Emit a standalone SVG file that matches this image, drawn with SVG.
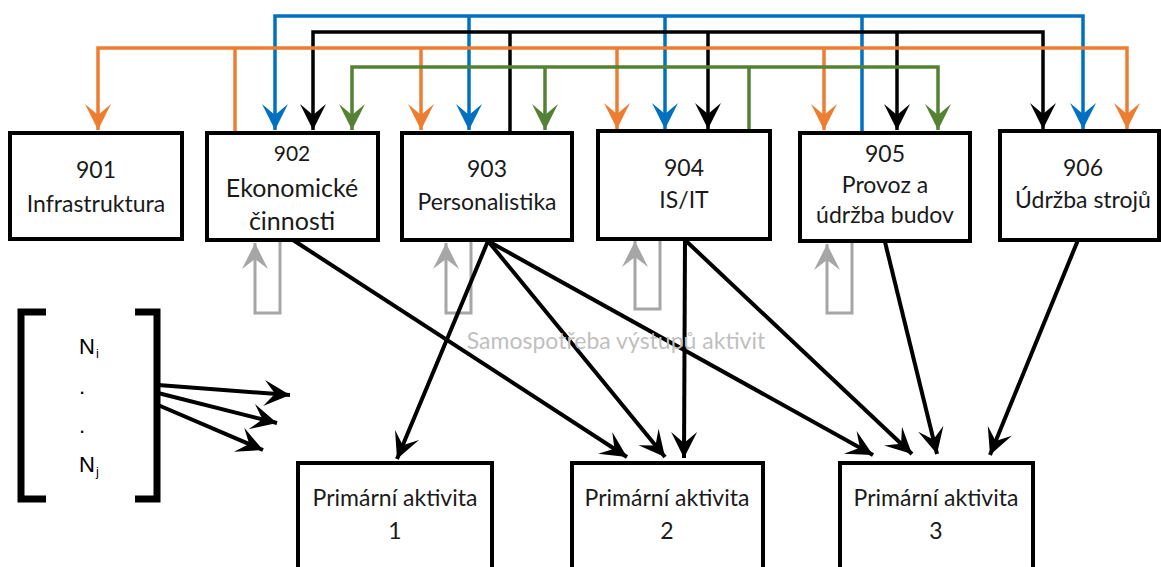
<svg xmlns="http://www.w3.org/2000/svg" width="1161" height="567" viewBox="0 0 1161 567">
  <style>
    .box { fill: #fff; stroke: #000; stroke-width: 4; }
    .lbl { font-family: Lato, "Open Sans", sans-serif; font-size: 23px; text-anchor: middle; fill: #1a1a1a; }
    .big { font-size: 25px; }
    .num { font-size: 21px; }
    .note { font-family: Lato, "Open Sans", sans-serif; font-size: 23px; text-anchor: middle; fill: #BFBFBF; }
    .math { font-family: "Liberation Sans", Arial, sans-serif; font-size: 22px; fill: #000; }
    .sub { font-size: 13px; }
    .bus { fill: none; stroke-width: 3.5; stroke-linejoin: miter; }
    .blue { stroke: #0070C0; }
    .orange { stroke: #ED7D31; }
    .black { stroke: #000; }
    .green { stroke: #548235; }
    .flow { fill: none; stroke: #000; stroke-width: 4; }
    .self { fill: none; stroke: #A6A6A6; stroke-width: 3; }
    .bracket { fill: none; stroke: #000; stroke-width: 7; stroke-linejoin: miter; }
  </style>
  <defs>
    <marker id="ah-blue" markerUnits="userSpaceOnUse" orient="auto-start-reverse" overflow="visible" markerWidth="1" markerHeight="1">
      <path d="M0,0 L-26,-13 L-15,0 L-26,13 Z" fill="#0070C0"/>
    </marker>
    <marker id="ah-orange" markerUnits="userSpaceOnUse" orient="auto-start-reverse" overflow="visible" markerWidth="1" markerHeight="1">
      <path d="M0,0 L-26,-13 L-15,0 L-26,13 Z" fill="#ED7D31"/>
    </marker>
    <marker id="ah-black" markerUnits="userSpaceOnUse" orient="auto-start-reverse" overflow="visible" markerWidth="1" markerHeight="1">
      <path d="M0,0 L-26,-13 L-15,0 L-26,13 Z" fill="#000"/>
    </marker>
    <marker id="ah-green" markerUnits="userSpaceOnUse" orient="auto-start-reverse" overflow="visible" markerWidth="1" markerHeight="1">
      <path d="M0,0 L-26,-13 L-15,0 L-26,13 Z" fill="#548235"/>
    </marker>
    <marker id="ah-gray" markerUnits="userSpaceOnUse" orient="auto" overflow="visible" markerWidth="1" markerHeight="1">
      <path d="M0,0 L-26,-13 L-16,0 L-26,13 Z" fill="#A6A6A6"/>
    </marker>
  </defs>

  <!-- support activity boxes -->
  <g id="n901">
    <rect class="box" x="10" y="133" width="172" height="106"/>
    <text class="lbl" x="96" y="178">901</text>
    <text class="lbl" x="96" y="212">Infrastruktura</text>
  </g>
  <g id="n902">
    <rect class="box" x="207" y="133" width="171" height="107"/>
    <text class="lbl num" x="292" y="161">902</text>
    <text class="lbl big" x="292" y="197">Ekonomické</text>
    <text class="lbl big" x="292" y="230">činnosti</text>
  </g>
  <g id="n903">
    <rect class="box" x="402" y="133" width="170" height="107"/>
    <text class="lbl" x="487" y="177">903</text>
    <text class="lbl" x="487" y="210">Personalistika</text>
  </g>
  <g id="n904">
    <rect class="box" x="598" y="131" width="172" height="108"/>
    <text class="lbl" x="684" y="176">904</text>
    <text class="lbl" x="684" y="208">IS/IT</text>
  </g>
  <g id="n905">
    <rect class="box" x="800" y="133" width="170" height="108"/>
    <text class="lbl" x="885" y="162">905</text>
    <text class="lbl" x="885" y="193">Provoz a</text>
    <text class="lbl" x="885" y="223">údržba budov</text>
  </g>
  <g id="n906">
    <rect class="box" x="1000" y="131" width="159" height="109"/>
    <text class="lbl" x="1083" y="176">906</text>
    <text class="lbl" x="1083" y="208">Údržba strojů</text>
  </g>

  <!-- primary activity boxes -->
  <g id="pa1">
    <rect class="box" x="298" y="463" width="194" height="130"/>
    <text class="lbl" x="395" y="506">Primární aktivita</text>
    <text class="lbl" x="395" y="539">1</text>
  </g>
  <g id="pa2">
    <rect class="box" x="572" y="463" width="191" height="130"/>
    <text class="lbl" x="667" y="506">Primární aktivita</text>
    <text class="lbl" x="667" y="539">2</text>
  </g>
  <g id="pa3">
    <rect class="box" x="840" y="463" width="193" height="130"/>
    <text class="lbl" x="936" y="506">Primární aktivita</text>
    <text class="lbl" x="936" y="539">3</text>
  </g>

  <g id="connectors">
    <!-- blue bus: 905 supplies 902, 903, 904, 906 -->
    <path class="bus blue" d="M275,130 V16 H1083 V129" marker-start="url(#ah-blue)" marker-end="url(#ah-blue)"/>
    <path class="bus blue" d="M469,16 V130" marker-end="url(#ah-blue)"/>
    <path class="bus blue" d="M665,16 V129" marker-end="url(#ah-blue)"/>
    <path class="bus blue" d="M862,131 V16"/>

    <!-- black bus: 903 supplies 902, 904, 905, 906 -->
    <path class="bus black" d="M313,130 V32 H1043 V129" marker-start="url(#ah-black)" marker-end="url(#ah-black)"/>
    <path class="bus black" d="M708,32 V129" marker-end="url(#ah-black)"/>
    <path class="bus black" d="M897,32 V130" marker-end="url(#ah-black)"/>
    <path class="bus black" d="M510,131 V32"/>

    <!-- orange bus: 902 supplies 901, 903, 904, 905, 906 -->
    <path class="bus orange" d="M98,130 V48 H1127 V129" marker-start="url(#ah-orange)" marker-end="url(#ah-orange)"/>
    <path class="bus orange" d="M421,48 V130" marker-end="url(#ah-orange)"/>
    <path class="bus orange" d="M617,48 V129" marker-end="url(#ah-orange)"/>
    <path class="bus orange" d="M824,48 V130" marker-end="url(#ah-orange)"/>
    <path class="bus orange" d="M235,131 V48"/>

    <!-- green bus: 904 supplies 902, 903, 905 -->
    <path class="bus green" d="M352,130 V67 H938 V130" marker-start="url(#ah-green)" marker-end="url(#ah-green)"/>
    <path class="bus green" d="M545,67 V130" marker-end="url(#ah-green)"/>
    <path class="bus green" d="M749,129 V67"/>

    <!-- self-consumption loops -->
    <path class="self" d="M280,242 V313 H255 V243" marker-end="url(#ah-gray)"/>
    <path class="self" d="M471,242 V313 H446 V243" marker-end="url(#ah-gray)"/>
    <path class="self" d="M660,241 V309 H635 V241" marker-end="url(#ah-gray)"/>
    <path class="self" d="M852,243 V313 H827 V244" marker-end="url(#ah-gray)"/>

    <!-- flows into primary activities -->
    <path class="flow" d="M293,240 L627,457" marker-end="url(#ah-black)"/>
    <path class="flow" d="M488,241 L397,459" marker-end="url(#ah-black)"/>
    <path class="flow" d="M488,241 L665,457" marker-end="url(#ah-black)"/>
    <path class="flow" d="M488,241 L873,455" marker-end="url(#ah-black)"/>
    <path class="flow" d="M685,240 L684,458" marker-end="url(#ah-black)"/>
    <path class="flow" d="M685,240 L912,454" marker-end="url(#ah-black)"/>
    <path class="flow" d="M885,242 L937,454" marker-end="url(#ah-black)"/>
    <path class="flow" d="M1078,240 L990,455" marker-end="url(#ah-black)"/>

    <!-- vector outputs -->
    <path class="flow" d="M158,385 L290,395" marker-end="url(#ah-black)"/>
    <path class="flow" d="M158,393 L277,423" marker-end="url(#ah-black)"/>
    <path class="flow" d="M158,405 L263,450" marker-end="url(#ah-black)"/>
  </g>

  <text class="note" x="616" y="349">Samospotřeba výstupů aktivit</text>

  <!-- bracketed vector N_i ... N_j -->
  <g id="vector">
    <path class="bracket" d="M46,312 H21 V499 H46"/>
    <path class="bracket" d="M135,312 H157 V499 H135"/>
    <text class="math" x="79" y="354">N<tspan class="sub" dx="1" dy="4">i</tspan></text>
    <text class="math" x="79" y="394">.</text>
    <text class="math" x="79" y="433">.</text>
    <text class="math" x="79" y="472">N<tspan class="sub" dx="1" dy="4">j</tspan></text>
  </g>
</svg>
